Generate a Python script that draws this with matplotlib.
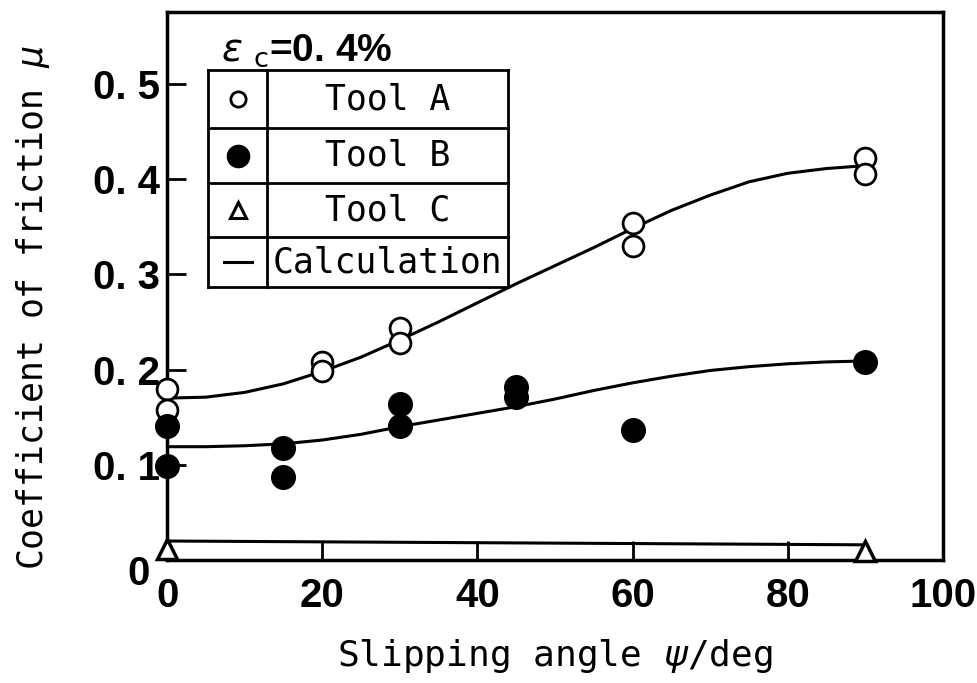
import matplotlib.pyplot as plt
import numpy as np

# measured friction coefficients
angle_a = [0, 0, 20, 20, 30, 30, 60, 60, 90, 90]
mu_a = [0.180, 0.157, 0.208, 0.198, 0.244, 0.228, 0.354, 0.330, 0.422, 0.405]

angle_b = [0, 0, 15, 15, 30, 30, 45, 45, 60, 90]
mu_b = [0.141, 0.099, 0.118, 0.087, 0.164, 0.141, 0.182, 0.171, 0.137, 0.208]

angle_c = [0, 90]
mu_c = [0.012, 0.010]

# calculated curves
calc_angle = [0, 5, 10, 15, 20, 25, 30, 35, 40, 45, 50, 55, 60, 65, 70, 75, 80, 85, 90]
calc_a = [0.170, 0.171, 0.176, 0.185, 0.198, 0.213, 0.231, 0.250, 0.270, 0.290,
          0.309, 0.328, 0.348, 0.367, 0.383, 0.397, 0.406, 0.411, 0.414]
calc_b = [0.119, 0.119, 0.120, 0.122, 0.126, 0.132, 0.140, 0.147, 0.154, 0.161,
          0.169, 0.178, 0.186, 0.193, 0.199, 0.203, 0.206, 0.208, 0.209]
calc_c_angle = [0, 90]
calc_c = [0.020, 0.016]

y_ticks = [0.1, 0.2, 0.3, 0.4, 0.5]
y_labels = ["0. 1", "0. 2", "0. 3", "0. 4", "0. 5"]
x_ticks = [0, 20, 40, 60, 80, 100]

legend_labels = ["Tool A", "Tool B", "Tool C", "Calculation"]

mono = "DejaVu Sans Mono"
tickfont = ["Liberation Sans", "DejaVu Sans"]

fig = plt.figure(figsize=(9.77, 6.83), dpi=100)
ax = fig.add_axes([0.171, 0.180, 0.794, 0.802])

lw = 2.2
ax.plot(calc_angle, calc_a, color="black", lw=lw, zorder=2)
ax.plot(calc_angle, calc_b, color="black", lw=lw, zorder=2)
ax.plot(calc_c_angle, calc_c, color="black", lw=lw, zorder=2)

ax.plot(angle_a, mu_a, "o", ms=15, mfc="white", mec="black", mew=2.0,
        ls="none", clip_on=False, zorder=3)
ax.plot(angle_b, mu_b, "o", ms=17, mfc="black", mec="black",
        ls="none", clip_on=False, zorder=3)
ax.plot(angle_c, mu_c, "^", ms=14, mfc="white", mec="black", mew=2.5,
        ls="none", clip_on=False, zorder=3)

ax.set_xlim(0, 100)
ax.set_ylim(0, 0.575)

ax.set_xticks(x_ticks)
ax.set_xticklabels([str(t) for t in x_ticks], family=tickfont, weight="bold", fontsize=29)
ax.set_yticks(y_ticks)
ax.set_yticklabels(y_labels, family=tickfont, weight="bold", fontsize=29)
ax.tick_params(direction="in", length=14, width=2.0, top=False, right=False)
ax.tick_params(axis="x", pad=12)
ax.tick_params(axis="y", pad=5)
ax.text(-0.037, -0.026, "0", transform=ax.transAxes, ha="center", va="center",
        family=tickfont, weight="bold", fontsize=29)

for s in ax.spines.values():
    s.set_linewidth(2.5)

ax.set_xlabel("Slipping angle $\\psi$/deg", family=mono, fontsize=26, labelpad=16)
ax.set_ylabel("Coefficient of friction $\\mu$", family=mono, fontsize=25)
ax.yaxis.set_label_coords(-0.148, 0.46)

# boxed legend drawn as a small table
tr = ax.transAxes
left, mid, right = 0.053, 0.129, 0.439
rows = [0.894, 0.788, 0.688, 0.590, 0.498]
for y in rows:
    ax.plot([left, right], [y, y], color="black", lw=2.0, transform=tr, clip_on=False, zorder=4)
for x in (left, mid, right):
    ax.plot([x, x], [rows[0], rows[-1]], color="black", lw=2.0, transform=tr, clip_on=False, zorder=4)

centers = [(rows[i] + rows[i + 1]) / 2 for i in range(4)]
mx = (left + mid) / 2
ax.plot(mx, centers[0], "o", ms=11, mfc="white", mec="black", mew=2.0, transform=tr, zorder=5)
ax.plot(mx, centers[1], "o", ms=16, mfc="black", mec="black", transform=tr, zorder=5)
ax.plot(mx, centers[2], "^", ms=12, mfc="white", mec="black", mew=2.2, transform=tr, zorder=5)
ax.plot([mx - 0.018, mx + 0.018], [centers[3], centers[3]], color="black", lw=2.2,
        transform=tr, zorder=5)
for lab, y in zip(legend_labels, centers):
    ax.text((mid + right) / 2, y, lab, transform=tr, ha="center", va="center",
            family=mono, fontsize=25, zorder=5)

ax.text(0.07, 0.93, "$\\varepsilon$ $_{\\rm c}$=0. 4%", transform=tr, ha="left", va="center",
        family=tickfont, weight="bold", fontsize=28)

fig.savefig("out.png", dpi=100)
